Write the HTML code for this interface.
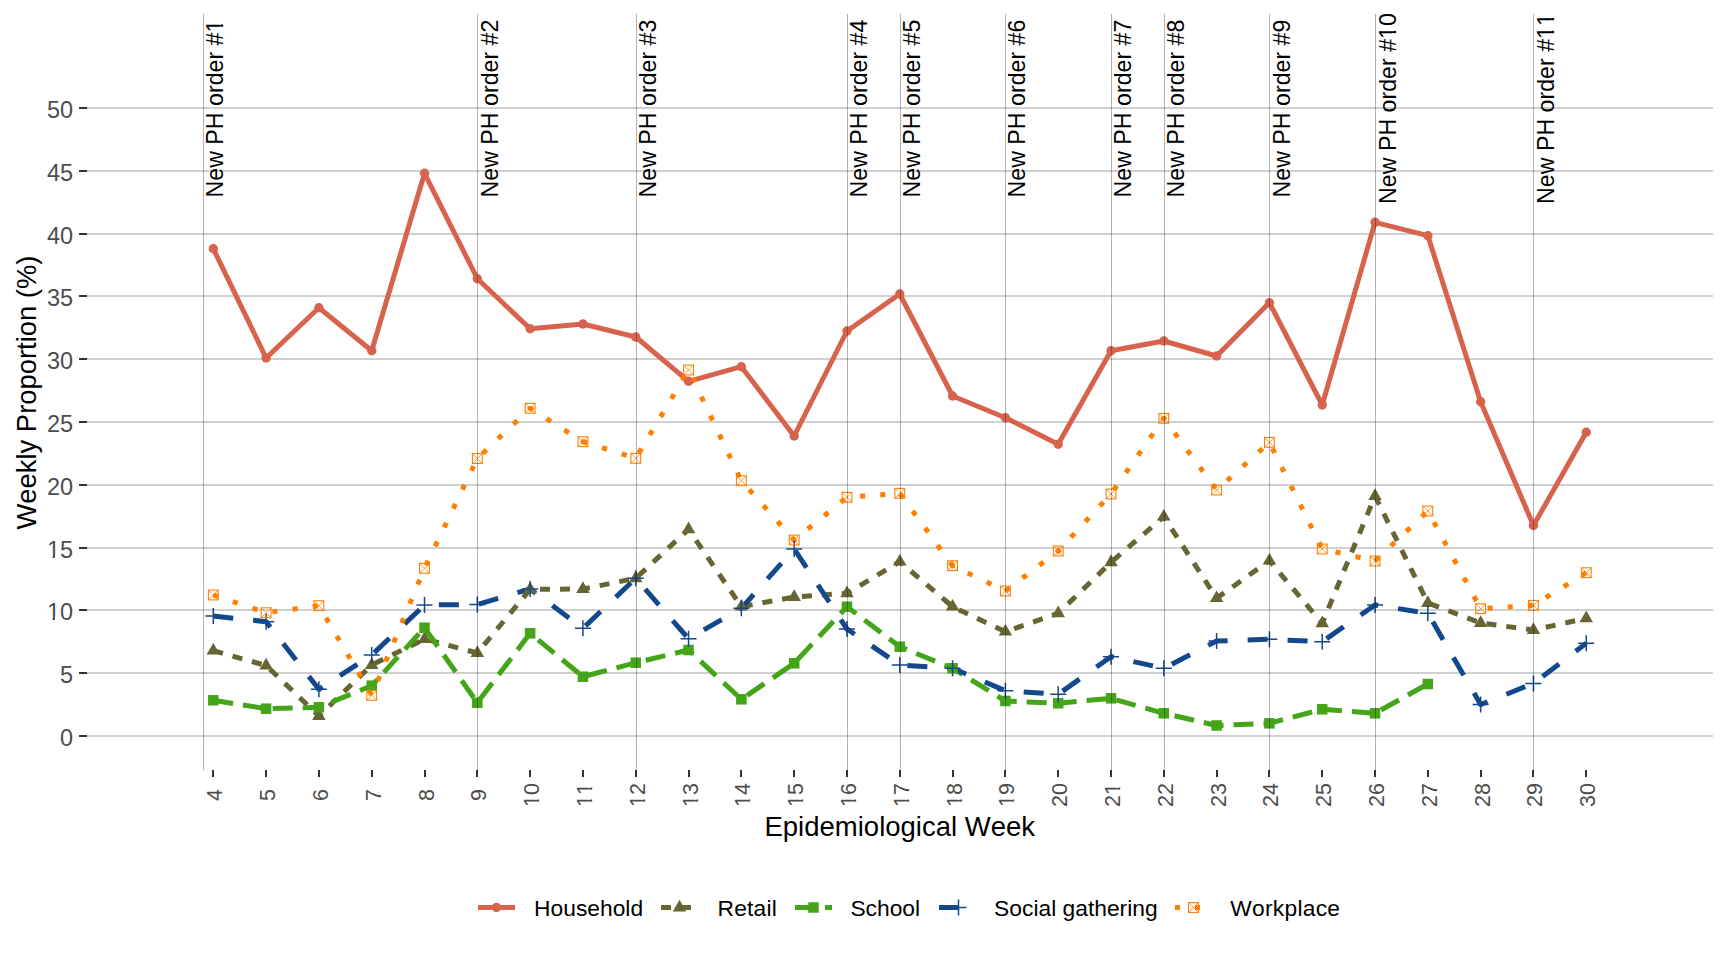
<!DOCTYPE html>
<html><head><meta charset="utf-8"><title>Weekly Proportion by Setting</title>
<style>html,body{margin:0;padding:0;background:#fff;}body{width:1728px;height:960px;overflow:hidden;}svg{display:block;}text{font-family:"Liberation Sans", sans-serif;font-kerning:none;}</style>
</head><body>
<svg width="1728" height="960" viewBox="0 0 1728 960">
<rect x="0" y="0" width="1728" height="960" fill="#fff"/>
<rect x="87" y="735" width="1626" height="2" fill="#D0D0D0"/>
<rect x="79" y="735" width="8" height="2" fill="#333"/>
<text transform="translate(73.00,746.20)" x="-13.07" y="0" font-size="23.5" fill="#4D4D4D">0</text>
<rect x="87" y="672" width="1626" height="2" fill="#D0D0D0"/>
<rect x="79" y="672" width="8" height="2" fill="#333"/>
<text transform="translate(73.00,683.20)" x="-13.07" y="0" font-size="23.5" fill="#4D4D4D">5</text>
<rect x="87" y="609" width="1626" height="2" fill="#D0D0D0"/>
<rect x="79" y="609" width="8" height="2" fill="#333"/>
<text transform="translate(73.00,620.20)" x="-26.14" y="0" font-size="23.5" fill="#4D4D4D">10</text><g transform="translate(73.00,620.20)" fill="#fff"><rect x="-25.45" y="-3.76" width="5.07" height="5.76"/><rect x="-18.00" y="-3.76" width="4.18" height="5.76"/></g>
<rect x="87" y="547" width="1626" height="2" fill="#D0D0D0"/>
<rect x="79" y="547" width="8" height="2" fill="#333"/>
<text transform="translate(73.00,558.20)" x="-26.14" y="0" font-size="23.5" fill="#4D4D4D">15</text><g transform="translate(73.00,558.20)" fill="#fff"><rect x="-25.45" y="-3.76" width="5.07" height="5.76"/><rect x="-18.00" y="-3.76" width="4.18" height="5.76"/></g>
<rect x="87" y="484" width="1626" height="2" fill="#D0D0D0"/>
<rect x="79" y="484" width="8" height="2" fill="#333"/>
<text transform="translate(73.00,495.20)" x="-26.14" y="0" font-size="23.5" fill="#4D4D4D">20</text>
<rect x="87" y="421" width="1626" height="2" fill="#D0D0D0"/>
<rect x="79" y="421" width="8" height="2" fill="#333"/>
<text transform="translate(73.00,432.20)" x="-26.14" y="0" font-size="23.5" fill="#4D4D4D">25</text>
<rect x="87" y="358" width="1626" height="2" fill="#D0D0D0"/>
<rect x="79" y="358" width="8" height="2" fill="#333"/>
<text transform="translate(73.00,369.20)" x="-26.14" y="0" font-size="23.5" fill="#4D4D4D">30</text>
<rect x="87" y="295" width="1626" height="2" fill="#D0D0D0"/>
<rect x="79" y="295" width="8" height="2" fill="#333"/>
<text transform="translate(73.00,306.20)" x="-26.14" y="0" font-size="23.5" fill="#4D4D4D">35</text>
<rect x="87" y="233" width="1626" height="2" fill="#D0D0D0"/>
<rect x="79" y="233" width="8" height="2" fill="#333"/>
<text transform="translate(73.00,244.20)" x="-26.14" y="0" font-size="23.5" fill="#4D4D4D">40</text>
<rect x="87" y="170" width="1626" height="2" fill="#D0D0D0"/>
<rect x="79" y="170" width="8" height="2" fill="#333"/>
<text transform="translate(73.00,181.20)" x="-26.14" y="0" font-size="23.5" fill="#4D4D4D">45</text>
<rect x="87" y="107" width="1626" height="2" fill="#D0D0D0"/>
<rect x="79" y="107" width="8" height="2" fill="#333"/>
<text transform="translate(73.00,118.20)" x="-26.14" y="0" font-size="23.5" fill="#4D4D4D">50</text>
<rect x="212" y="770" width="2" height="7" fill="#333"/>
<text transform="translate(221.60,795.00) rotate(-90)" x="-5.98" y="0" font-size="21.5" fill="#4D4D4D">4</text>
<rect x="265" y="770" width="2" height="7" fill="#333"/>
<text transform="translate(274.60,795.00) rotate(-90)" x="-5.98" y="0" font-size="21.5" fill="#4D4D4D">5</text>
<rect x="318" y="770" width="2" height="7" fill="#333"/>
<text transform="translate(327.60,795.00) rotate(-90)" x="-5.98" y="0" font-size="21.5" fill="#4D4D4D">6</text>
<rect x="371" y="770" width="2" height="7" fill="#333"/>
<text transform="translate(380.60,795.00) rotate(-90)" x="-5.98" y="0" font-size="21.5" fill="#4D4D4D">7</text>
<rect x="424" y="770" width="2" height="7" fill="#333"/>
<text transform="translate(433.60,795.00) rotate(-90)" x="-5.98" y="0" font-size="21.5" fill="#4D4D4D">8</text>
<rect x="476" y="770" width="2" height="7" fill="#333"/>
<text transform="translate(485.60,795.00) rotate(-90)" x="-5.98" y="0" font-size="21.5" fill="#4D4D4D">9</text>
<rect x="529" y="770" width="2" height="7" fill="#333"/>
<text transform="translate(538.60,795.00) rotate(-90)" x="-11.96" y="0" font-size="21.5" fill="#4D4D4D">10</text><g transform="translate(538.60,795.00) rotate(-90)" fill="#fff"><rect x="-11.33" y="-3.61" width="4.63" height="5.61"/><rect x="-4.50" y="-3.61" width="3.82" height="5.61"/></g>
<rect x="582" y="770" width="2" height="7" fill="#333"/>
<text transform="translate(591.60,795.00) rotate(-90)" x="-11.96" y="0" font-size="21.5" fill="#4D4D4D">11</text><g transform="translate(591.60,795.00) rotate(-90)" fill="#fff"><rect x="-11.33" y="-3.61" width="4.63" height="5.61"/><rect x="-4.50" y="-3.61" width="3.82" height="5.61"/><rect x="0.63" y="-3.61" width="4.63" height="5.61"/><rect x="7.46" y="-3.61" width="3.82" height="5.61"/></g>
<rect x="635" y="770" width="2" height="7" fill="#333"/>
<text transform="translate(644.60,795.00) rotate(-90)" x="-11.96" y="0" font-size="21.5" fill="#4D4D4D">12</text><g transform="translate(644.60,795.00) rotate(-90)" fill="#fff"><rect x="-11.33" y="-3.61" width="4.63" height="5.61"/><rect x="-4.50" y="-3.61" width="3.82" height="5.61"/></g>
<rect x="688" y="770" width="2" height="7" fill="#333"/>
<text transform="translate(697.60,795.00) rotate(-90)" x="-11.96" y="0" font-size="21.5" fill="#4D4D4D">13</text><g transform="translate(697.60,795.00) rotate(-90)" fill="#fff"><rect x="-11.33" y="-3.61" width="4.63" height="5.61"/><rect x="-4.50" y="-3.61" width="3.82" height="5.61"/></g>
<rect x="740" y="770" width="2" height="7" fill="#333"/>
<text transform="translate(749.60,795.00) rotate(-90)" x="-11.96" y="0" font-size="21.5" fill="#4D4D4D">14</text><g transform="translate(749.60,795.00) rotate(-90)" fill="#fff"><rect x="-11.33" y="-3.61" width="4.63" height="5.61"/><rect x="-4.50" y="-3.61" width="3.82" height="5.61"/></g>
<rect x="793" y="770" width="2" height="7" fill="#333"/>
<text transform="translate(802.60,795.00) rotate(-90)" x="-11.96" y="0" font-size="21.5" fill="#4D4D4D">15</text><g transform="translate(802.60,795.00) rotate(-90)" fill="#fff"><rect x="-11.33" y="-3.61" width="4.63" height="5.61"/><rect x="-4.50" y="-3.61" width="3.82" height="5.61"/></g>
<rect x="846" y="770" width="2" height="7" fill="#333"/>
<text transform="translate(855.60,795.00) rotate(-90)" x="-11.96" y="0" font-size="21.5" fill="#4D4D4D">16</text><g transform="translate(855.60,795.00) rotate(-90)" fill="#fff"><rect x="-11.33" y="-3.61" width="4.63" height="5.61"/><rect x="-4.50" y="-3.61" width="3.82" height="5.61"/></g>
<rect x="899" y="770" width="2" height="7" fill="#333"/>
<text transform="translate(908.60,795.00) rotate(-90)" x="-11.96" y="0" font-size="21.5" fill="#4D4D4D">17</text><g transform="translate(908.60,795.00) rotate(-90)" fill="#fff"><rect x="-11.33" y="-3.61" width="4.63" height="5.61"/><rect x="-4.50" y="-3.61" width="3.82" height="5.61"/></g>
<rect x="952" y="770" width="2" height="7" fill="#333"/>
<text transform="translate(961.60,795.00) rotate(-90)" x="-11.96" y="0" font-size="21.5" fill="#4D4D4D">18</text><g transform="translate(961.60,795.00) rotate(-90)" fill="#fff"><rect x="-11.33" y="-3.61" width="4.63" height="5.61"/><rect x="-4.50" y="-3.61" width="3.82" height="5.61"/></g>
<rect x="1004" y="770" width="2" height="7" fill="#333"/>
<text transform="translate(1013.60,795.00) rotate(-90)" x="-11.96" y="0" font-size="21.5" fill="#4D4D4D">19</text><g transform="translate(1013.60,795.00) rotate(-90)" fill="#fff"><rect x="-11.33" y="-3.61" width="4.63" height="5.61"/><rect x="-4.50" y="-3.61" width="3.82" height="5.61"/></g>
<rect x="1057" y="770" width="2" height="7" fill="#333"/>
<text transform="translate(1066.60,795.00) rotate(-90)" x="-11.96" y="0" font-size="21.5" fill="#4D4D4D">20</text>
<rect x="1110" y="770" width="2" height="7" fill="#333"/>
<text transform="translate(1119.60,795.00) rotate(-90)" x="-11.96" y="0" font-size="21.5" fill="#4D4D4D">21</text><g transform="translate(1119.60,795.00) rotate(-90)" fill="#fff"><rect x="0.63" y="-3.61" width="4.63" height="5.61"/><rect x="7.46" y="-3.61" width="3.82" height="5.61"/></g>
<rect x="1163" y="770" width="2" height="7" fill="#333"/>
<text transform="translate(1172.60,795.00) rotate(-90)" x="-11.96" y="0" font-size="21.5" fill="#4D4D4D">22</text>
<rect x="1216" y="770" width="2" height="7" fill="#333"/>
<text transform="translate(1225.60,795.00) rotate(-90)" x="-11.96" y="0" font-size="21.5" fill="#4D4D4D">23</text>
<rect x="1268" y="770" width="2" height="7" fill="#333"/>
<text transform="translate(1277.60,795.00) rotate(-90)" x="-11.96" y="0" font-size="21.5" fill="#4D4D4D">24</text>
<rect x="1321" y="770" width="2" height="7" fill="#333"/>
<text transform="translate(1330.60,795.00) rotate(-90)" x="-11.96" y="0" font-size="21.5" fill="#4D4D4D">25</text>
<rect x="1374" y="770" width="2" height="7" fill="#333"/>
<text transform="translate(1383.60,795.00) rotate(-90)" x="-11.96" y="0" font-size="21.5" fill="#4D4D4D">26</text>
<rect x="1427" y="770" width="2" height="7" fill="#333"/>
<text transform="translate(1436.60,795.00) rotate(-90)" x="-11.96" y="0" font-size="21.5" fill="#4D4D4D">27</text>
<rect x="1480" y="770" width="2" height="7" fill="#333"/>
<text transform="translate(1489.60,795.00) rotate(-90)" x="-11.96" y="0" font-size="21.5" fill="#4D4D4D">28</text>
<rect x="1532" y="770" width="2" height="7" fill="#333"/>
<text transform="translate(1541.60,795.00) rotate(-90)" x="-11.96" y="0" font-size="21.5" fill="#4D4D4D">29</text>
<rect x="1585" y="770" width="2" height="7" fill="#333"/>
<text transform="translate(1594.60,795.00) rotate(-90)" x="-11.96" y="0" font-size="21.5" fill="#4D4D4D">30</text>
<text transform="translate(899.75,836.00)" x="-135.27" y="0" font-size="27.5" fill="#000">Epidemiological Week</text>
<text transform="translate(35.90,392.50) rotate(-90)" x="-137.04" y="0" font-size="27.4" fill="#000">Weekly Proportion (%)</text>
<polyline points="213.30,248.70 266.11,358.00 318.91,307.70 371.72,350.70 424.52,173.30 477.33,278.70 530.14,328.70 582.94,324.00 635.75,337.00 688.55,381.30 741.36,366.70 794.17,436.00 846.97,331.00 899.78,294.00 952.58,396.00 1005.39,417.70 1058.20,444.30 1111.00,350.70 1163.81,341.00 1216.61,356.00 1269.42,302.70 1322.23,405.00 1375.03,222.30 1427.84,235.70 1480.64,401.70 1533.45,525.50 1586.26,432.30" fill="none" stroke="#D8634D" stroke-width="5.0" stroke-linejoin="round" stroke-linecap="butt"/>
<path d="M213.30 650.70L222.93 653.40M232.60 656.11L242.26 658.82M251.93 661.53L261.59 664.24M269.97 669.20L277.40 676.30M284.82 683.40L292.25 690.50M299.68 697.60L307.10 704.70M314.53 711.81L318.91 716.00M318.91 716.00L321.94 713.08M329.33 705.94L336.72 698.80M344.11 691.67L351.50 684.53M358.89 677.39L366.28 670.25M374.15 663.80L383.25 659.32M392.34 654.85L401.44 650.37M410.53 645.89L419.62 641.41M429.04 640.20L438.74 642.77M448.44 645.34L458.14 647.91M467.84 650.48L477.33 653.00M477.33 653.00L477.47 652.84M484.01 644.94L490.56 637.04M497.11 629.14L503.66 621.24M510.21 613.34L516.76 605.44M523.31 597.54L529.85 589.64M539.95 589.24L549.95 589.19M559.95 589.13L569.95 589.07M579.95 589.02L582.94 589.00M582.94 589.00L589.81 587.61M599.63 585.62L609.45 583.63M619.26 581.64L629.08 579.65M638.10 576.11L645.63 569.13M653.16 562.14L660.69 555.15M668.22 548.16L675.75 541.18M683.29 534.19L688.55 529.30M688.55 529.30L690.29 531.85M696.05 540.29L701.81 548.74M707.58 557.18L713.34 565.62M719.10 574.07L724.86 582.51M730.62 590.96L736.38 599.40M742.72 606.45L752.57 604.64M762.42 602.83L772.27 601.02M782.11 599.21L791.96 597.41M801.92 596.46L811.89 595.76M821.87 595.06L831.85 594.36M841.82 593.66L846.97 593.30M846.97 593.30L851.12 590.82M859.87 585.58L868.61 580.35M877.35 575.12L886.09 569.89M894.84 564.66L899.78 561.70M899.78 561.70L903.15 564.57M910.96 571.23L918.77 577.89M926.59 584.55L934.40 591.20M942.21 597.86L950.02 604.52M958.82 609.65L967.98 613.99M977.13 618.32L986.28 622.65M995.44 626.99L1004.59 631.32M1014.12 628.66L1023.62 625.35M1033.13 622.04L1042.63 618.72M1052.14 615.41L1058.20 613.30M1058.20 613.30L1060.82 610.76M1068.21 603.63L1075.60 596.49M1082.99 589.35L1090.38 582.21M1097.77 575.08L1105.16 567.94M1112.64 560.89L1120.41 554.18M1128.18 547.47L1135.95 540.76M1143.72 534.05L1151.49 527.34M1159.26 520.63L1163.81 516.70M1163.81 516.70L1166.12 520.27M1171.67 528.84L1177.22 537.41M1182.77 545.97L1188.33 554.54M1193.88 563.11L1199.43 571.68M1204.98 580.24L1210.53 588.81M1216.08 597.38L1216.61 598.20M1216.61 598.20L1224.14 592.85M1232.48 586.93L1240.83 581.01M1249.17 575.08L1257.51 569.16M1265.85 563.23L1269.42 560.70M1269.42 560.70L1273.19 565.17M1279.81 573.02L1286.43 580.86M1293.05 588.71L1299.67 596.55M1306.28 604.40L1312.90 612.24M1319.52 620.09L1322.23 623.30M1322.23 623.30L1324.55 617.70M1328.42 608.37L1332.29 599.05M1336.16 589.72L1340.03 580.39M1343.89 571.06L1347.76 561.74M1351.63 552.41L1355.50 543.08M1359.37 533.76L1363.24 524.43M1367.11 515.10L1370.98 505.78M1374.85 496.45L1375.03 496.00M1375.03 496.00L1379.29 504.62M1383.77 513.71L1388.26 522.80M1392.74 531.89L1397.23 540.98M1401.72 550.07L1406.20 559.16M1410.69 568.25L1415.18 577.34M1419.66 586.44L1424.15 595.53M1429.52 603.64L1438.95 607.21M1448.38 610.78L1457.80 614.35M1467.23 617.92L1476.66 621.49M1486.41 623.76L1496.33 625.08M1506.25 626.39L1516.16 627.71M1526.08 629.02L1533.45 630.00M1533.45 630.00L1535.96 629.44M1545.74 627.28L1555.53 625.11M1565.31 622.94L1575.10 620.77M1584.88 618.61L1586.26 618.30" stroke="#676533" stroke-width="5.0" stroke-linecap="butt" fill="none"/>
<g fill="#676533"><circle cx="318.91" cy="716.00" r="2.50"/><circle cx="477.33" cy="653.00" r="2.50"/><circle cx="582.94" cy="589.00" r="2.50"/><circle cx="688.55" cy="529.30" r="2.50"/><circle cx="846.97" cy="593.30" r="2.50"/><circle cx="899.78" cy="561.70" r="2.50"/><circle cx="1058.20" cy="613.30" r="2.50"/><circle cx="1163.81" cy="516.70" r="2.50"/><circle cx="1216.61" cy="598.20" r="2.50"/><circle cx="1269.42" cy="560.70" r="2.50"/><circle cx="1322.23" cy="623.30" r="2.50"/><circle cx="1375.03" cy="496.00" r="2.50"/><circle cx="1533.45" cy="630.00" r="2.50"/></g>
<path d="M213.30 700.30L233.05 703.44M242.94 705.02L262.72 708.16M272.69 708.53L292.68 708.00M302.68 707.73L318.91 707.30M318.91 707.30L322.39 705.88M331.79 702.03L350.59 694.34M359.99 690.50L371.72 685.70M371.72 685.70L376.86 680.05M383.89 672.33L397.95 656.89M404.98 649.16L419.05 633.72M425.85 629.59L437.80 646.55M443.77 655.04L455.72 672.00M461.69 680.49L473.64 697.46M479.73 699.55L492.33 682.99M498.63 674.71L511.23 658.15M517.52 649.87L530.12 633.32M538.16 639.89L554.26 653.13M562.32 659.75L578.43 672.99M587.37 675.53L606.81 670.37M616.52 667.80L635.75 662.70M635.75 662.70L635.96 662.65M645.73 660.30L665.26 655.60M675.02 653.26L688.55 650.00M688.55 650.00L693.06 654.21M700.70 661.34L715.97 675.59M723.60 682.72L738.88 696.98M747.18 695.33L764.31 683.65M772.87 677.82L790.00 666.14M797.79 659.41L812.05 644.13M819.17 636.50L833.43 621.22M840.55 613.58L846.97 606.70M846.97 606.70L856.13 613.63M864.42 619.91L881.00 632.48M889.29 638.76L899.78 646.70M899.78 646.70L906.86 649.59M916.25 653.44L935.05 661.13M944.45 664.97L952.58 668.30M952.58 668.30L962.38 674.37M971.16 679.80L988.71 690.67M997.49 696.11L1005.39 701.00M1005.39 701.00L1016.73 701.49M1026.72 701.93L1046.70 702.80M1056.69 703.23L1058.20 703.30M1058.20 703.30L1076.61 701.56M1086.57 700.61L1106.48 698.73M1116.26 699.79L1135.62 705.29M1145.31 708.04L1163.81 713.30M1163.81 713.30L1164.68 713.50M1174.46 715.76L1194.02 720.28M1203.80 722.54L1216.61 725.50M1216.61 725.50L1223.54 725.21M1233.53 724.80L1253.51 723.96M1263.50 723.55L1269.42 723.30M1269.42 723.30L1283.03 719.69M1292.75 717.12L1312.18 711.96M1321.90 709.39L1322.23 709.30M1322.23 709.30L1341.94 710.79M1351.92 711.55L1371.86 713.06M1381.00 709.99L1398.97 700.02M1407.95 695.03L1425.92 685.06" stroke="#44A518" stroke-width="5.0" stroke-linecap="butt" fill="none"/>
<g fill="#44A518"><circle cx="318.91" cy="707.30" r="2.50"/><circle cx="371.72" cy="685.70" r="2.50"/><circle cx="635.75" cy="662.70" r="2.50"/><circle cx="688.55" cy="650.00" r="2.50"/><circle cx="846.97" cy="606.70" r="2.50"/><circle cx="899.78" cy="646.70" r="2.50"/><circle cx="952.58" cy="668.30" r="2.50"/><circle cx="1005.39" cy="701.00" r="2.50"/><circle cx="1058.20" cy="703.30" r="2.50"/><circle cx="1163.81" cy="713.30" r="2.50"/><circle cx="1216.61" cy="725.50" r="2.50"/><circle cx="1269.42" cy="723.30" r="2.50"/><circle cx="1322.23" cy="709.30" r="2.50"/></g>
<path d="M213.30 616.00L233.18 618.15M253.08 620.29L266.11 621.70M266.11 621.70L270.36 627.14M283.17 643.55L295.99 659.96M308.81 676.37L318.91 689.30M318.91 689.30L322.61 686.90M339.96 675.63L357.31 664.36M374.26 652.59L389.44 638.22M404.61 623.86L419.78 609.49M438.89 604.86L458.89 604.67M478.82 604.06L498.15 598.39M517.48 592.72L530.14 589.00M530.14 589.00L535.71 593.15M552.39 605.56L569.07 617.98M585.48 625.89L600.66 611.53M615.83 597.16L631.00 582.79M645.20 589.11L658.94 604.83M672.68 620.54L686.42 636.26M703.84 629.90L721.68 619.63M739.51 609.36L741.36 608.30M741.36 608.30L753.63 594.52M767.52 578.93L781.40 563.33M795.10 550.41L806.50 567.69M817.90 584.96L829.31 602.24M840.71 619.51L846.97 629.00M846.97 629.00L854.68 634.26M871.81 645.93L888.93 657.61M907.37 665.47L927.33 666.72M947.29 667.97L952.58 668.30M952.58 668.30L966.12 674.04M984.84 681.98L1003.56 689.92M1023.69 691.95L1043.65 693.31M1062.61 691.16L1079.52 679.12M1096.43 667.08L1111.00 656.70M1111.00 656.70L1113.81 657.32M1133.41 661.62L1153.00 665.93M1171.81 664.16L1190.01 654.76M1208.21 645.35L1216.61 641.00M1216.61 641.00L1227.63 640.65M1247.62 640.00L1267.61 639.36M1287.59 640.13L1307.57 641.03M1326.61 638.66L1343.64 626.82M1360.67 614.98L1375.03 605.00M1375.03 605.00L1378.24 605.50M1398.03 608.61L1417.81 611.72M1432.79 621.85L1443.10 639.66M1453.42 657.48L1463.73 675.29M1474.05 693.11L1480.64 704.50M1480.64 704.50L1487.54 701.74M1506.38 694.21L1525.23 686.68M1542.56 676.48L1559.13 663.90M1575.70 651.32L1586.26 643.30" stroke="#14488C" stroke-width="5.0" stroke-linecap="butt" fill="none"/>
<g fill="#14488C"><circle cx="266.11" cy="621.70" r="2.50"/><circle cx="318.91" cy="689.30" r="2.50"/><circle cx="530.14" cy="589.00" r="2.50"/><circle cx="741.36" cy="608.30" r="2.50"/><circle cx="846.97" cy="629.00" r="2.50"/><circle cx="952.58" cy="668.30" r="2.50"/><circle cx="1111.00" cy="656.70" r="2.50"/><circle cx="1216.61" cy="641.00" r="2.50"/><circle cx="1375.03" cy="605.00" r="2.50"/><circle cx="1480.64" cy="704.50" r="2.50"/></g>
<path d="M213.30 595.00L218.04 596.59M232.80 601.54L237.72 603.18M252.48 608.13L257.40 609.78M272.43 611.86L277.47 611.19M292.58 609.19L297.62 608.52M312.73 606.52L317.77 605.85M326.06 617.84L328.74 622.38M336.77 636.01L339.45 640.55M347.48 654.18L350.16 658.72M358.19 672.35L360.87 676.90M368.90 690.53L371.58 695.07M377.69 680.94L379.69 676.12M385.71 661.65L387.71 656.83M393.73 642.37L395.73 637.55M401.75 623.08L403.75 618.26M409.76 603.80L411.77 598.98M417.78 584.51L419.79 579.69M425.97 565.30L428.24 560.57M435.06 546.40L437.33 541.67M444.15 527.49L446.42 522.77M453.24 508.59L455.51 503.86M462.33 489.68L464.61 484.96M471.42 470.78L473.70 466.05M482.66 453.44L486.51 449.78M498.06 438.80L501.91 435.14M513.46 424.16L517.31 420.50M528.86 409.52L530.14 408.30M530.14 408.30L533.13 410.20M546.53 418.67L550.99 421.49M564.38 429.96L568.85 432.79M582.24 441.26L582.94 441.70M582.94 441.70L587.19 443.04M602.01 447.69L606.95 449.25M621.77 453.91L626.71 455.46M638.86 453.09L641.57 448.57M649.69 434.98L652.40 430.46M660.52 416.87L663.23 412.35M671.35 398.76L674.06 394.24M682.18 380.65L684.89 376.13M692.29 377.84L694.55 382.57M701.32 396.77L703.58 401.50M710.35 415.70L712.61 420.43M719.38 434.63L721.64 439.36M728.41 453.55L730.67 458.29M737.44 472.48L739.70 477.21M749.25 489.56L752.78 493.53M763.38 505.43L766.91 509.39M777.50 521.29L781.04 525.26M791.63 537.15L794.17 540.00M794.17 540.00L795.33 539.06M807.71 529.05L811.83 525.71M824.21 515.71L828.34 512.37M840.71 502.36L844.84 499.03M860.11 496.31L865.14 495.92M880.24 494.78L885.27 494.40M900.13 493.78L903.25 498.06M912.61 510.90L915.73 515.18M925.10 528.02L928.22 532.30M937.59 545.14L940.71 549.42M950.07 562.26L952.58 565.70M952.58 565.70L953.52 566.15M967.71 572.95L972.44 575.21M986.62 582.01L991.35 584.27M1005.52 590.90L1009.75 587.70M1022.42 578.10L1026.65 574.90M1039.32 565.30L1043.55 562.10M1056.23 552.49L1058.20 551.00M1058.20 551.00L1060.12 548.93M1070.95 537.24L1074.56 533.34M1085.39 521.65L1089.00 517.75M1099.83 506.06L1103.44 502.17M1113.75 490.06L1116.78 485.72M1125.86 472.70L1128.89 468.36M1137.98 455.33L1141.00 450.99M1150.09 437.97L1153.12 433.62M1162.20 420.60L1163.81 418.30M1163.81 418.30L1165.28 420.30M1174.71 433.10L1177.85 437.37M1187.28 450.17L1190.42 454.43M1199.85 467.23L1202.99 471.50M1212.41 484.30L1215.56 488.56M1227.09 480.54L1231.03 476.98M1242.85 466.30L1246.79 462.74M1258.61 452.06L1262.56 448.50M1272.38 448.29L1274.71 452.99M1281.70 467.10L1284.02 471.81M1291.01 485.92L1293.34 490.62M1300.32 504.74L1302.65 509.44M1309.63 523.55L1311.96 528.26M1318.94 542.37L1321.27 547.07M1335.48 552.01L1340.49 553.15M1355.51 556.56L1360.52 557.70M1375.41 560.64L1379.27 556.99M1390.84 546.03L1394.70 542.38M1406.27 531.42L1410.13 527.77M1421.70 516.81L1425.55 513.16M1433.92 522.25L1436.42 526.88M1443.93 540.77L1446.43 545.40M1453.93 559.28L1456.44 563.91M1463.94 577.80L1466.44 582.43M1473.95 596.31L1476.45 600.94M1487.59 608.25L1492.62 607.93M1507.71 606.96L1512.74 606.63M1527.83 605.66L1532.86 605.34M1545.81 597.67L1550.30 594.89M1563.78 586.57L1568.27 583.80M1581.75 575.48L1586.24 572.71" stroke="#FF8000" stroke-width="5.0" stroke-linecap="butt" fill="none"/>
<g fill="#FF8000"><circle cx="530.14" cy="408.30" r="2.50"/><circle cx="582.94" cy="441.70" r="2.50"/><circle cx="794.17" cy="540.00" r="2.50"/><circle cx="952.58" cy="565.70" r="2.50"/><circle cx="1058.20" cy="551.00" r="2.50"/><circle cx="1163.81" cy="418.30" r="2.50"/></g>
<circle cx="213.30" cy="248.70" r="4.7" fill="#D8634D"/>
<circle cx="266.11" cy="358.00" r="4.7" fill="#D8634D"/>
<circle cx="318.91" cy="307.70" r="4.7" fill="#D8634D"/>
<circle cx="371.72" cy="350.70" r="4.7" fill="#D8634D"/>
<circle cx="424.52" cy="173.30" r="4.7" fill="#D8634D"/>
<circle cx="477.33" cy="278.70" r="4.7" fill="#D8634D"/>
<circle cx="530.14" cy="328.70" r="4.7" fill="#D8634D"/>
<circle cx="582.94" cy="324.00" r="4.7" fill="#D8634D"/>
<circle cx="635.75" cy="337.00" r="4.7" fill="#D8634D"/>
<circle cx="688.55" cy="381.30" r="4.7" fill="#D8634D"/>
<circle cx="741.36" cy="366.70" r="4.7" fill="#D8634D"/>
<circle cx="794.17" cy="436.00" r="4.7" fill="#D8634D"/>
<circle cx="846.97" cy="331.00" r="4.7" fill="#D8634D"/>
<circle cx="899.78" cy="294.00" r="4.7" fill="#D8634D"/>
<circle cx="952.58" cy="396.00" r="4.7" fill="#D8634D"/>
<circle cx="1005.39" cy="417.70" r="4.7" fill="#D8634D"/>
<circle cx="1058.20" cy="444.30" r="4.7" fill="#D8634D"/>
<circle cx="1111.00" cy="350.70" r="4.7" fill="#D8634D"/>
<circle cx="1163.81" cy="341.00" r="4.7" fill="#D8634D"/>
<circle cx="1216.61" cy="356.00" r="4.7" fill="#D8634D"/>
<circle cx="1269.42" cy="302.70" r="4.7" fill="#D8634D"/>
<circle cx="1322.23" cy="405.00" r="4.7" fill="#D8634D"/>
<circle cx="1375.03" cy="222.30" r="4.7" fill="#D8634D"/>
<circle cx="1427.84" cy="235.70" r="4.7" fill="#D8634D"/>
<circle cx="1480.64" cy="401.70" r="4.7" fill="#D8634D"/>
<circle cx="1533.45" cy="525.50" r="4.7" fill="#D8634D"/>
<circle cx="1586.26" cy="432.30" r="4.7" fill="#D8634D"/>
<polygon points="213.30,642.90 220.05,654.60 206.55,654.60" fill="#676533"/>
<polygon points="266.11,657.70 272.86,669.40 259.35,669.40" fill="#676533"/>
<polygon points="318.91,708.20 325.67,719.90 312.16,719.90" fill="#676533"/>
<polygon points="371.72,657.20 378.47,668.90 364.96,668.90" fill="#676533"/>
<polygon points="424.52,631.20 431.28,642.90 417.77,642.90" fill="#676533"/>
<polygon points="477.33,645.20 484.08,656.90 470.58,656.90" fill="#676533"/>
<polygon points="530.14,581.50 536.89,593.20 523.38,593.20" fill="#676533"/>
<polygon points="582.94,581.20 589.70,592.90 576.19,592.90" fill="#676533"/>
<polygon points="635.75,570.50 642.50,582.20 628.99,582.20" fill="#676533"/>
<polygon points="688.55,521.50 695.31,533.20 681.80,533.20" fill="#676533"/>
<polygon points="741.36,598.90 748.11,610.60 734.61,610.60" fill="#676533"/>
<polygon points="794.17,589.20 800.92,600.90 787.41,600.90" fill="#676533"/>
<polygon points="846.97,585.50 853.73,597.20 840.22,597.20" fill="#676533"/>
<polygon points="899.78,553.90 906.53,565.60 893.02,565.60" fill="#676533"/>
<polygon points="952.58,598.90 959.34,610.60 945.83,610.60" fill="#676533"/>
<polygon points="1005.39,623.90 1012.14,635.60 998.64,635.60" fill="#676533"/>
<polygon points="1058.20,605.50 1064.95,617.20 1051.44,617.20" fill="#676533"/>
<polygon points="1111.00,554.50 1117.76,566.20 1104.25,566.20" fill="#676533"/>
<polygon points="1163.81,508.90 1170.56,520.60 1157.05,520.60" fill="#676533"/>
<polygon points="1216.61,590.40 1223.37,602.10 1209.86,602.10" fill="#676533"/>
<polygon points="1269.42,552.90 1276.17,564.60 1262.67,564.60" fill="#676533"/>
<polygon points="1322.23,615.50 1328.98,627.20 1315.47,627.20" fill="#676533"/>
<polygon points="1375.03,488.20 1381.79,499.90 1368.28,499.90" fill="#676533"/>
<polygon points="1427.84,595.20 1434.59,606.90 1421.08,606.90" fill="#676533"/>
<polygon points="1480.64,615.20 1487.40,626.90 1473.89,626.90" fill="#676533"/>
<polygon points="1533.45,622.20 1540.20,633.90 1526.70,633.90" fill="#676533"/>
<polygon points="1586.26,610.50 1593.01,622.20 1579.50,622.20" fill="#676533"/>
<rect x="208.05" y="695.05" width="10.5" height="10.5" fill="#44A518"/>
<rect x="260.86" y="703.45" width="10.5" height="10.5" fill="#44A518"/>
<rect x="313.66" y="702.05" width="10.5" height="10.5" fill="#44A518"/>
<rect x="366.47" y="680.45" width="10.5" height="10.5" fill="#44A518"/>
<rect x="419.27" y="622.45" width="10.5" height="10.5" fill="#44A518"/>
<rect x="472.08" y="697.45" width="10.5" height="10.5" fill="#44A518"/>
<rect x="524.89" y="628.05" width="10.5" height="10.5" fill="#44A518"/>
<rect x="577.69" y="671.45" width="10.5" height="10.5" fill="#44A518"/>
<rect x="630.50" y="657.45" width="10.5" height="10.5" fill="#44A518"/>
<rect x="683.30" y="644.75" width="10.5" height="10.5" fill="#44A518"/>
<rect x="736.11" y="694.05" width="10.5" height="10.5" fill="#44A518"/>
<rect x="788.92" y="658.05" width="10.5" height="10.5" fill="#44A518"/>
<rect x="841.72" y="601.45" width="10.5" height="10.5" fill="#44A518"/>
<rect x="894.53" y="641.45" width="10.5" height="10.5" fill="#44A518"/>
<rect x="947.33" y="663.05" width="10.5" height="10.5" fill="#44A518"/>
<rect x="1000.14" y="695.75" width="10.5" height="10.5" fill="#44A518"/>
<rect x="1052.95" y="698.05" width="10.5" height="10.5" fill="#44A518"/>
<rect x="1105.75" y="693.05" width="10.5" height="10.5" fill="#44A518"/>
<rect x="1158.56" y="708.05" width="10.5" height="10.5" fill="#44A518"/>
<rect x="1211.36" y="720.25" width="10.5" height="10.5" fill="#44A518"/>
<rect x="1264.17" y="718.05" width="10.5" height="10.5" fill="#44A518"/>
<rect x="1316.98" y="704.05" width="10.5" height="10.5" fill="#44A518"/>
<rect x="1369.78" y="708.05" width="10.5" height="10.5" fill="#44A518"/>
<rect x="1422.59" y="678.75" width="10.5" height="10.5" fill="#44A518"/>
<path d="M205.30 616.00H221.30M213.30 608.00V624.00" stroke="#14488C" stroke-width="1.5" fill="none"/>
<path d="M258.11 621.70H274.11M266.11 613.70V629.70" stroke="#14488C" stroke-width="1.5" fill="none"/>
<path d="M310.91 689.30H326.91M318.91 681.30V697.30" stroke="#14488C" stroke-width="1.5" fill="none"/>
<path d="M363.72 655.00H379.72M371.72 647.00V663.00" stroke="#14488C" stroke-width="1.5" fill="none"/>
<path d="M416.52 605.00H432.52M424.52 597.00V613.00" stroke="#14488C" stroke-width="1.5" fill="none"/>
<path d="M469.33 604.50H485.33M477.33 596.50V612.50" stroke="#14488C" stroke-width="1.5" fill="none"/>
<path d="M522.14 589.00H538.14M530.14 581.00V597.00" stroke="#14488C" stroke-width="1.5" fill="none"/>
<path d="M574.94 628.30H590.94M582.94 620.30V636.30" stroke="#14488C" stroke-width="1.5" fill="none"/>
<path d="M627.75 578.30H643.75M635.75 570.30V586.30" stroke="#14488C" stroke-width="1.5" fill="none"/>
<path d="M680.55 638.70H696.55M688.55 630.70V646.70" stroke="#14488C" stroke-width="1.5" fill="none"/>
<path d="M733.36 608.30H749.36M741.36 600.30V616.30" stroke="#14488C" stroke-width="1.5" fill="none"/>
<path d="M786.17 549.00H802.17M794.17 541.00V557.00" stroke="#14488C" stroke-width="1.5" fill="none"/>
<path d="M838.97 629.00H854.97M846.97 621.00V637.00" stroke="#14488C" stroke-width="1.5" fill="none"/>
<path d="M891.78 665.00H907.78M899.78 657.00V673.00" stroke="#14488C" stroke-width="1.5" fill="none"/>
<path d="M944.58 668.30H960.58M952.58 660.30V676.30" stroke="#14488C" stroke-width="1.5" fill="none"/>
<path d="M997.39 690.70H1013.39M1005.39 682.70V698.70" stroke="#14488C" stroke-width="1.5" fill="none"/>
<path d="M1050.20 694.30H1066.20M1058.20 686.30V702.30" stroke="#14488C" stroke-width="1.5" fill="none"/>
<path d="M1103.00 656.70H1119.00M1111.00 648.70V664.70" stroke="#14488C" stroke-width="1.5" fill="none"/>
<path d="M1155.81 668.30H1171.81M1163.81 660.30V676.30" stroke="#14488C" stroke-width="1.5" fill="none"/>
<path d="M1208.61 641.00H1224.61M1216.61 633.00V649.00" stroke="#14488C" stroke-width="1.5" fill="none"/>
<path d="M1261.42 639.30H1277.42M1269.42 631.30V647.30" stroke="#14488C" stroke-width="1.5" fill="none"/>
<path d="M1314.23 641.70H1330.23M1322.23 633.70V649.70" stroke="#14488C" stroke-width="1.5" fill="none"/>
<path d="M1367.03 605.00H1383.03M1375.03 597.00V613.00" stroke="#14488C" stroke-width="1.5" fill="none"/>
<path d="M1419.84 613.30H1435.84M1427.84 605.30V621.30" stroke="#14488C" stroke-width="1.5" fill="none"/>
<path d="M1472.64 704.50H1488.64M1480.64 696.50V712.50" stroke="#14488C" stroke-width="1.5" fill="none"/>
<path d="M1525.45 683.40H1541.45M1533.45 675.40V691.40" stroke="#14488C" stroke-width="1.5" fill="none"/>
<path d="M1578.26 643.30H1594.26M1586.26 635.30V651.30" stroke="#14488C" stroke-width="1.5" fill="none"/>
<rect x="208.40" y="590.10" width="9.8" height="9.8" fill="none" stroke="#FF8000" stroke-width="1.1"/><path d="M208.40 590.10L218.20 599.90M208.40 599.90L218.20 590.10" stroke="#FF8000" stroke-width="0.8"/>
<rect x="261.21" y="607.80" width="9.8" height="9.8" fill="none" stroke="#FF8000" stroke-width="1.1"/><path d="M261.21 607.80L271.01 617.60M261.21 617.60L271.01 607.80" stroke="#FF8000" stroke-width="0.8"/>
<rect x="314.01" y="600.80" width="9.8" height="9.8" fill="none" stroke="#FF8000" stroke-width="1.1"/><path d="M314.01 600.80L323.81 610.60M314.01 610.60L323.81 600.80" stroke="#FF8000" stroke-width="0.8"/>
<rect x="366.82" y="690.40" width="9.8" height="9.8" fill="none" stroke="#FF8000" stroke-width="1.1"/><path d="M366.82 690.40L376.62 700.20M366.82 700.20L376.62 690.40" stroke="#FF8000" stroke-width="0.8"/>
<rect x="419.62" y="563.40" width="9.8" height="9.8" fill="none" stroke="#FF8000" stroke-width="1.1"/><path d="M419.62 563.40L429.42 573.20M419.62 573.20L429.42 563.40" stroke="#FF8000" stroke-width="0.8"/>
<rect x="472.43" y="453.60" width="9.8" height="9.8" fill="none" stroke="#FF8000" stroke-width="1.1"/><path d="M472.43 453.60L482.23 463.40M472.43 463.40L482.23 453.60" stroke="#FF8000" stroke-width="0.8"/>
<rect x="525.24" y="403.40" width="9.8" height="9.8" fill="none" stroke="#FF8000" stroke-width="1.1"/><path d="M525.24 403.40L535.04 413.20M525.24 413.20L535.04 403.40" stroke="#FF8000" stroke-width="0.8"/>
<rect x="578.04" y="436.80" width="9.8" height="9.8" fill="none" stroke="#FF8000" stroke-width="1.1"/><path d="M578.04 436.80L587.84 446.60M578.04 446.60L587.84 436.80" stroke="#FF8000" stroke-width="0.8"/>
<rect x="630.85" y="453.40" width="9.8" height="9.8" fill="none" stroke="#FF8000" stroke-width="1.1"/><path d="M630.85 453.40L640.65 463.20M630.85 463.20L640.65 453.40" stroke="#FF8000" stroke-width="0.8"/>
<rect x="683.65" y="365.10" width="9.8" height="9.8" fill="none" stroke="#FF8000" stroke-width="1.1"/><path d="M683.65 365.10L693.45 374.90M683.65 374.90L693.45 365.10" stroke="#FF8000" stroke-width="0.8"/>
<rect x="736.46" y="475.80" width="9.8" height="9.8" fill="none" stroke="#FF8000" stroke-width="1.1"/><path d="M736.46 475.80L746.26 485.60M736.46 485.60L746.26 475.80" stroke="#FF8000" stroke-width="0.8"/>
<rect x="789.27" y="535.10" width="9.8" height="9.8" fill="none" stroke="#FF8000" stroke-width="1.1"/><path d="M789.27 535.10L799.07 544.90M789.27 544.90L799.07 535.10" stroke="#FF8000" stroke-width="0.8"/>
<rect x="842.07" y="492.40" width="9.8" height="9.8" fill="none" stroke="#FF8000" stroke-width="1.1"/><path d="M842.07 492.40L851.87 502.20M842.07 502.20L851.87 492.40" stroke="#FF8000" stroke-width="0.8"/>
<rect x="894.88" y="488.40" width="9.8" height="9.8" fill="none" stroke="#FF8000" stroke-width="1.1"/><path d="M894.88 488.40L904.68 498.20M894.88 498.20L904.68 488.40" stroke="#FF8000" stroke-width="0.8"/>
<rect x="947.68" y="560.80" width="9.8" height="9.8" fill="none" stroke="#FF8000" stroke-width="1.1"/><path d="M947.68 560.80L957.48 570.60M947.68 570.60L957.48 560.80" stroke="#FF8000" stroke-width="0.8"/>
<rect x="1000.49" y="586.10" width="9.8" height="9.8" fill="none" stroke="#FF8000" stroke-width="1.1"/><path d="M1000.49 586.10L1010.29 595.90M1000.49 595.90L1010.29 586.10" stroke="#FF8000" stroke-width="0.8"/>
<rect x="1053.30" y="546.10" width="9.8" height="9.8" fill="none" stroke="#FF8000" stroke-width="1.1"/><path d="M1053.30 546.10L1063.10 555.90M1053.30 555.90L1063.10 546.10" stroke="#FF8000" stroke-width="0.8"/>
<rect x="1106.10" y="489.10" width="9.8" height="9.8" fill="none" stroke="#FF8000" stroke-width="1.1"/><path d="M1106.10 489.10L1115.90 498.90M1106.10 498.90L1115.90 489.10" stroke="#FF8000" stroke-width="0.8"/>
<rect x="1158.91" y="413.40" width="9.8" height="9.8" fill="none" stroke="#FF8000" stroke-width="1.1"/><path d="M1158.91 413.40L1168.71 423.20M1158.91 423.20L1168.71 413.40" stroke="#FF8000" stroke-width="0.8"/>
<rect x="1211.71" y="485.10" width="9.8" height="9.8" fill="none" stroke="#FF8000" stroke-width="1.1"/><path d="M1211.71 485.10L1221.51 494.90M1211.71 494.90L1221.51 485.10" stroke="#FF8000" stroke-width="0.8"/>
<rect x="1264.52" y="437.40" width="9.8" height="9.8" fill="none" stroke="#FF8000" stroke-width="1.1"/><path d="M1264.52 437.40L1274.32 447.20M1264.52 447.20L1274.32 437.40" stroke="#FF8000" stroke-width="0.8"/>
<rect x="1317.33" y="544.10" width="9.8" height="9.8" fill="none" stroke="#FF8000" stroke-width="1.1"/><path d="M1317.33 544.10L1327.13 553.90M1317.33 553.90L1327.13 544.10" stroke="#FF8000" stroke-width="0.8"/>
<rect x="1370.13" y="556.10" width="9.8" height="9.8" fill="none" stroke="#FF8000" stroke-width="1.1"/><path d="M1370.13 556.10L1379.93 565.90M1370.13 565.90L1379.93 556.10" stroke="#FF8000" stroke-width="0.8"/>
<rect x="1422.94" y="506.10" width="9.8" height="9.8" fill="none" stroke="#FF8000" stroke-width="1.1"/><path d="M1422.94 506.10L1432.74 515.90M1422.94 515.90L1432.74 506.10" stroke="#FF8000" stroke-width="0.8"/>
<rect x="1475.74" y="603.80" width="9.8" height="9.8" fill="none" stroke="#FF8000" stroke-width="1.1"/><path d="M1475.74 603.80L1485.54 613.60M1475.74 613.60L1485.54 603.80" stroke="#FF8000" stroke-width="0.8"/>
<rect x="1528.55" y="600.40" width="9.8" height="9.8" fill="none" stroke="#FF8000" stroke-width="1.1"/><path d="M1528.55 600.40L1538.35 610.20M1528.55 610.20L1538.35 600.40" stroke="#FF8000" stroke-width="0.8"/>
<rect x="1581.36" y="567.80" width="9.8" height="9.8" fill="none" stroke="#FF8000" stroke-width="1.1"/><path d="M1581.36 567.80L1591.16 577.60M1581.36 577.60L1591.16 567.80" stroke="#FF8000" stroke-width="0.8"/>
<rect x="203" y="14" width="1" height="756" fill="#000" fill-opacity="0.3"/>
<rect x="477" y="14" width="1" height="756" fill="#000" fill-opacity="0.3"/>
<rect x="636" y="14" width="1" height="756" fill="#000" fill-opacity="0.3"/>
<rect x="847" y="14" width="1" height="756" fill="#000" fill-opacity="0.3"/>
<rect x="900" y="14" width="1" height="756" fill="#000" fill-opacity="0.3"/>
<rect x="1005" y="14" width="1" height="756" fill="#000" fill-opacity="0.3"/>
<rect x="1111" y="14" width="1" height="756" fill="#000" fill-opacity="0.3"/>
<rect x="1164" y="14" width="1" height="756" fill="#000" fill-opacity="0.3"/>
<rect x="1269" y="14" width="1" height="756" fill="#000" fill-opacity="0.3"/>
<rect x="1375" y="14" width="1" height="756" fill="#000" fill-opacity="0.3"/>
<rect x="1533" y="14" width="1" height="756" fill="#000" fill-opacity="0.3"/>
<text transform="translate(223.30,108.50) rotate(-90)" x="-88.97" y="0" font-size="23.2" fill="#000">New PH order #1</text><g transform="translate(223.30,108.50) rotate(-90)" fill="#fff"><rect x="76.75" y="-3.73" width="5.00" height="5.73"/><rect x="84.10" y="-3.73" width="4.12" height="5.73"/></g>
<text transform="translate(498.30,108.50) rotate(-90)" x="-88.97" y="0" font-size="23.2" fill="#000">New PH order #2</text>
<text transform="translate(656.30,108.50) rotate(-90)" x="-88.97" y="0" font-size="23.2" fill="#000">New PH order #3</text>
<text transform="translate(866.50,108.50) rotate(-90)" x="-88.97" y="0" font-size="23.2" fill="#000">New PH order #4</text>
<text transform="translate(920.30,108.50) rotate(-90)" x="-88.97" y="0" font-size="23.2" fill="#000">New PH order #5</text>
<text transform="translate(1025.30,108.50) rotate(-90)" x="-88.97" y="0" font-size="23.2" fill="#000">New PH order #6</text>
<text transform="translate(1130.80,108.50) rotate(-90)" x="-88.97" y="0" font-size="23.2" fill="#000">New PH order #7</text>
<text transform="translate(1184.40,108.50) rotate(-90)" x="-88.97" y="0" font-size="23.2" fill="#000">New PH order #8</text>
<text transform="translate(1290.10,108.50) rotate(-90)" x="-88.97" y="0" font-size="23.2" fill="#000">New PH order #9</text>
<text transform="translate(1396.30,108.50) rotate(-90)" x="-95.42" y="0" font-size="23.2" fill="#000">New PH order #10</text><g transform="translate(1396.30,108.50) rotate(-90)" fill="#fff"><rect x="70.30" y="-3.73" width="5.00" height="5.73"/><rect x="77.65" y="-3.73" width="4.12" height="5.73"/></g>
<text transform="translate(1554.20,108.50) rotate(-90)" x="-95.42" y="0" font-size="23.2" fill="#000">New PH order #11</text><g transform="translate(1554.20,108.50) rotate(-90)" fill="#fff"><rect x="70.30" y="-3.73" width="5.00" height="5.73"/><rect x="77.65" y="-3.73" width="4.12" height="5.73"/><rect x="83.20" y="-3.73" width="5.00" height="5.73"/><rect x="90.55" y="-3.73" width="4.12" height="5.73"/></g>
<line x1="478.0" y1="907.5" x2="515.0" y2="907.5" stroke="#D8634D" stroke-width="5.0"/>
<circle cx="496.50" cy="907.50" r="4.7" fill="#D8634D"/>
<text transform="translate(534.10,916.00)" x="0.00" y="0" font-size="22.8" fill="#000">Household</text>
<line x1="661.0" y1="907.5" x2="698.0" y2="907.5" stroke="#676533" stroke-width="5.0" stroke-dasharray="10.00 10.00"/>
<polygon points="679.50,899.70 686.25,911.40 672.75,911.40" fill="#676533"/>
<text transform="translate(717.50,916.00)" x="0.00" y="0" font-size="22.8" fill="#000" letter-spacing="0.20">Retail</text>
<line x1="795.0" y1="907.5" x2="832.0" y2="907.5" stroke="#44A518" stroke-width="5.0" stroke-dasharray="20.00 10.00"/>
<rect x="808.25" y="902.25" width="10.5" height="10.5" fill="#44A518"/>
<text transform="translate(850.40,916.00)" x="0.00" y="0" font-size="22.8" fill="#000">School</text>
<line x1="939.0" y1="907.5" x2="976.0" y2="907.5" stroke="#14488C" stroke-width="5.0" stroke-dasharray="20.00 20.00"/>
<path d="M950.50 907.50H966.50M958.50 899.50V915.50" stroke="#14488C" stroke-width="1.5" fill="none"/>
<text transform="translate(994.10,916.00)" x="0.00" y="0" font-size="22.8" fill="#000">Social gathering</text>
<line x1="1175.0" y1="907.5" x2="1212.0" y2="907.5" stroke="#FF8000" stroke-width="5.0" stroke-dasharray="5.00 15.00"/>
<rect x="1188.60" y="902.60" width="9.8" height="9.8" fill="none" stroke="#FF8000" stroke-width="1.1"/><path d="M1188.60 902.60L1198.40 912.40M1188.60 912.40L1198.40 902.60" stroke="#FF8000" stroke-width="0.8"/>
<text transform="translate(1230.30,916.00)" x="0.00" y="0" font-size="22.8" fill="#000" letter-spacing="0.25">Workplace</text>
</svg>
</body></html>
